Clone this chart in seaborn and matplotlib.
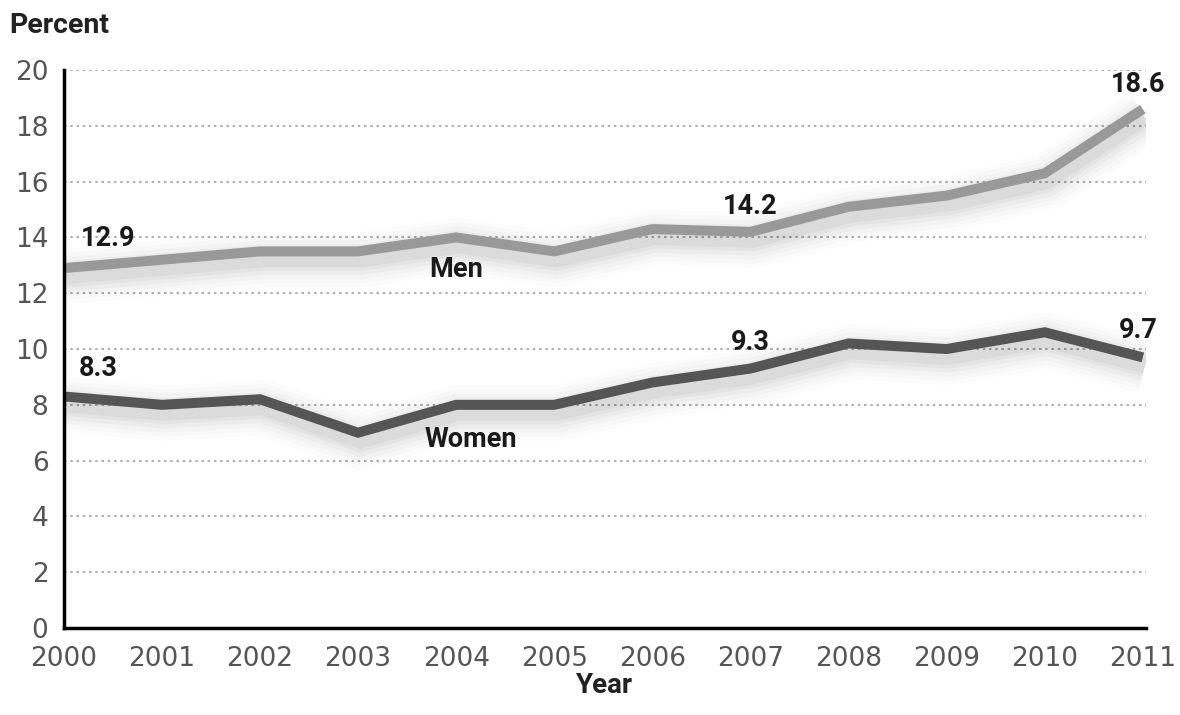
import matplotlib
matplotlib.use("Agg")
import matplotlib.pyplot as plt
import matplotlib.patheffects as pe
import seaborn as sns
import pandas as pd

years = [2000, 2001, 2002, 2003, 2004, 2005, 2006, 2007, 2008, 2009, 2010, 2011]
men = [12.9, 13.2, 13.5, 13.5, 14.0, 13.5, 14.3, 14.2, 15.1, 15.5, 16.3, 18.6]
women = [8.3, 8.0, 8.2, 7.0, 8.0, 8.0, 8.8, 9.3, 10.2, 10.0, 10.6, 9.7]
y_ticks = [0, 2, 4, 6, 8, 10, 12, 14, 16, 18, 20]

sns.set_theme(style="white")
plt.rcParams["font.family"] = ["DejaVu Sans"]
LABEL_FONT = ["Roboto", "DejaVu Sans"]

fig = plt.figure(figsize=(11.8, 7.15), dpi=100)
ax = fig.add_axes([0.054, 0.1217, 0.917, 0.7803])

df = pd.DataFrame({"Year": years, "Men": men, "Women": women})


def soft_shadow():
    # stacked translucent strokes give a blurred drop shadow under each line
    effects = []
    for w, a in [(40, 0.012), (34, 0.016), (28, 0.02), (22, 0.026), (16, 0.032), (11, 0.04)]:
        effects.append(pe.SimpleLineShadow(offset=(1.5, -6), shadow_color="black",
                                           alpha=a, linewidth=w))
    effects.append(pe.Normal())
    return effects


for col, color in [("Men", "#999999"), ("Women", "#555555")]:
    sns.lineplot(data=df, x="Year", y=col, ax=ax, color=color, linewidth=7.2,
                 solid_joinstyle="miter", solid_capstyle="butt",
                 path_effects=soft_shadow(), zorder=3)

ax.set_xlim(2000, 2011.03)
ax.set_ylim(0, 20)
ax.set_xticks(years)
ax.set_yticks(y_ticks)
ax.set_xticklabels([str(y) for y in years])
ax.set_yticklabels([str(v) for v in y_ticks])

for v in y_ticks[1:]:
    ax.axhline(v, color="#b0b0b0", linewidth=1.5, linestyle=(0, (1.2, 1.8)), zorder=1)

for side in ["top", "right"]:
    ax.spines[side].set_visible(False)
for side in ["left", "bottom"]:
    ax.spines[side].set_color("black")
    ax.spines[side].set_linewidth(2.5)
    ax.spines[side].set_zorder(4)

ax.tick_params(axis="both", direction="out", length=7, width=2.5, color="black",
               labelsize=19, labelcolor="#555555", pad=6)
ax.tick_params(axis="y", pad=4)

ax.set_xlabel("Year", fontsize=20, fontweight="bold", color="#222222", labelpad=0,
              family=LABEL_FONT)
ax.set_ylabel("")
fig.text(0.008, 0.964, "Percent", fontsize=20.5, fontweight="bold", color="#222222",
         ha="left", va="center", family=LABEL_FONT)

label_kw = dict(fontsize=19.5, fontweight="bold", color="#1a1a1a", ha="center",
                va="center", family=LABEL_FONT)
ax.text(2000.45, men[0] + 1.05, f"{men[0]:.1f}", **label_kw)
ax.text(2007.0, men[7] + 0.9, f"{men[7]:.1f}", **label_kw)
ax.text(2010.95, men[11] + 0.9, f"{men[11]:.1f}", **label_kw)
ax.text(2000.35, women[0] + 1.0, f"{women[0]:.1f}", **label_kw)
ax.text(2007.0, women[7] + 0.95, f"{women[7]:.1f}", **label_kw)
ax.text(2010.95, women[11] + 0.95, f"{women[11]:.1f}", **label_kw)
ax.text(2004.0, 12.85, "Men", **label_kw)
ax.text(2004.15, 6.75, "Women", **label_kw)

fig.savefig("out.png", dpi=100)
